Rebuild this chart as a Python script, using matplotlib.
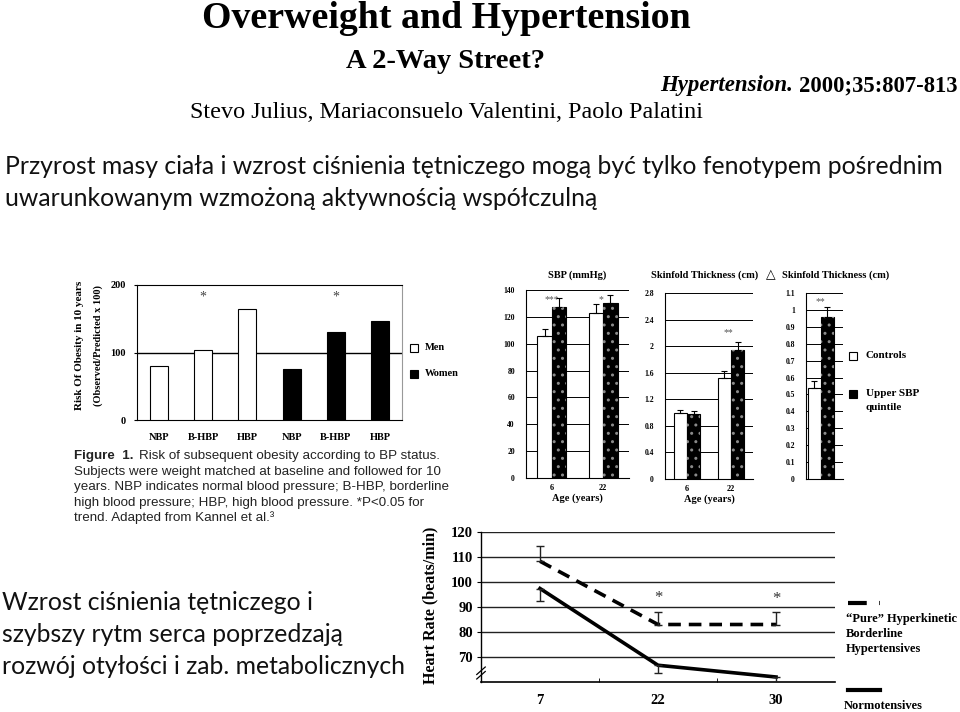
import numpy as np
import matplotlib
matplotlib.use("Agg")
import matplotlib.pyplot as plt
from matplotlib.patches import Rectangle
from matplotlib.lines import Line2D

plt.rcParams['font.family'] = ['Liberation Serif', 'DejaVu Sans']

# ---------------- data ----------------
# Panel A: Risk of obesity in 10 years
bp_cats = ["NBP", "B-HBP", "HBP", "NBP", "B-HBP", "HBP"]
men_risk = [80, 103, 164]
women_risk = [76, 130, 146]

# Panel B: SBP (mmHg)
ages_b = ["6", "22"]
sbp_controls = [106, 123]
sbp_controls_err = [5, 6.5]
sbp_upper = [127.5, 130]
sbp_upper_err = [6.5, 6]

# Panel C: Skinfold thickness (cm)
skin_controls = [0.99, 1.52]
skin_controls_err = [0.05, 0.10]
skin_upper = [0.98, 1.94]
skin_upper_err = [0.05, 0.12]

# Panel D: delta skinfold thickness (cm)
dskin_controls = [0.54]
dskin_controls_err = [0.04]
dskin_upper = [0.96]
dskin_upper_err = [0.06]

# Panel E: Heart rate (beats/min)
hr_ages = ["7", "22", "30"]
hr_hyper = [108.3, 83, 83]
hr_hyper_err = [6.3, 5, 5]
hr_norm = [97.4, 66.7, 62]
hr_norm_err = [5, 3, 3]

# ---------------- figure ----------------
W, H = 960, 712
fig = plt.figure(figsize=(W / 100, H / 100), dpi=100)
fig.patch.set_facecolor('white')


def add_ax(l, t, r, b):
    return fig.add_axes([l / W, 1 - b / H, (r - l) / W, (b - t) / H])


def ftext(x, y, s, **kw):
    kw.setdefault('va', 'center')
    return fig.text(x / W, 1 - y / H, s, **kw)


def fsquare(x, y, size, fc):
    fig.add_artist(Rectangle((x / W, 1 - (y + size) / H), size / W, size / H,
                             transform=fig.transFigure, facecolor=fc,
                             edgecolor='black', lw=0.8))


# Header texts
ftext(446, 18, "Overweight and Hypertension", ha='center', fontsize=27.3, fontweight='bold')
ftext(446, 62, "A 2-Way Street?", ha='center', fontsize=20.5, fontweight='bold')
ftext(793, 86, "Hypertension.", ha='right', fontsize=16.5, fontweight='bold', fontstyle='italic')
ftext(958, 86, "2000;35:807-813", ha='right', fontsize=16.3, fontweight='bold')
ftext(446, 113, "Stevo Julius, Mariaconsuelo Valentini, Paolo Palatini", ha='center', fontsize=17.4)

pol = dict(family=['Lato', 'DejaVu Sans'], fontsize=17.8, ha='left', color='#111111')
ftext(5, 167, "Przyrost masy ciała i wzrost ciśnienia tętniczego mogą być tylko fenotypem pośrednim", **pol)
ftext(5, 199, "uwarunkowanym wzmożoną aktywnością współczulną", **pol)
ftext(2, 603, "Wzrost ciśnienia tętniczego i", **pol)
ftext(2, 635, "szybszy rytm serca poprzedzają", **pol)
ftext(2, 667, "rozwój otyłości i zab. metabolicznych", **pol)

# ---------------- Panel A ----------------
axA = add_ax(137, 285, 402, 420)
xa = np.arange(len(bp_cats))
axA.bar(xa[:3], men_risk, width=0.41, facecolor='white', edgecolor='black', lw=0.8, zorder=3)
axA.bar(xa[3:], women_risk, width=0.41, facecolor='black', edgecolor='black', lw=0.8, zorder=3)
axA.axhline(100, color='black', lw=1.0, zorder=2)
axA.set_xlim(-0.5, 5.5)
axA.set_ylim(0, 200)
axA.set_yticks([0, 100, 200])
axA.set_xticks(xa)
axA.set_xticklabels(bp_cats)
axA.tick_params(axis='x', length=0, pad=9)
axA.tick_params(axis='y', length=2, pad=6)
for lab in axA.get_xticklabels() + axA.get_yticklabels():
    lab.set_fontsize(7.5)
    lab.set_fontweight('bold')
for sp in axA.spines.values():
    sp.set_linewidth(0.8)
axA.spines['right'].set_color('#999999')
axA.text(1, 182, "*", ha='center', va='center', fontsize=10, color='#444444')
axA.text(4, 182, "*", ha='center', va='center', fontsize=10, color='#444444')
ftext(80, 345, "Risk Of Obesity in 10 years", rotation=90, ha='center', fontsize=8, fontweight='bold')
ftext(98, 345, "(Observed/Predicted x 100)", rotation=90, ha='center', fontsize=7.5, fontweight='bold')
fsquare(410, 344, 8, 'white')
ftext(425, 348, "Men", ha='left', fontsize=7.5, fontweight='bold')
fsquare(410, 370, 8, 'black')
ftext(425, 374, "Women", ha='left', fontsize=7.5, fontweight='bold')

# Caption
cap = dict(family=['Liberation Sans', 'DejaVu Sans'], fontsize=9.6, ha='left', color='#222222')
ftext(74, 456, "Figure  1.", fontweight='bold', **cap)
ftext(139, 456, "Risk of subsequent obesity according to BP status.", **cap)
ftext(74, 472, "Subjects were weight matched at baseline and followed for 10", **cap)
ftext(74, 487, "years. NBP indicates normal blood pressure; B-HBP, borderline", **cap)
ftext(74, 503, "high blood pressure; HBP, high blood pressure. *P<0.05 for", **cap)
ftext(74, 518, "trend. Adapted from Kannel et al.\u00b3", **cap)


# ---------------- Panels B, C, D ----------------
def pair_panel(ax, ctrl, ctrl_err, upp, upp_err, width, offs, yticks, ylabels, ylim, xlim, xlabels):
    x = np.arange(len(ctrl))
    ax.bar(x - offs, ctrl, width=width, facecolor='white', edgecolor='black', lw=0.8, zorder=3)
    ax.bar(x + offs, upp, width=width, facecolor='black', edgecolor='black', lw=0.8, zorder=3)
    ax.bar(x + offs, upp, width=width, facecolor='none', edgecolor='#8a8a8a', lw=0, hatch='..', zorder=4)
    ax.errorbar(x - offs, ctrl, yerr=[np.zeros(len(ctrl)), ctrl_err], fmt='none',
                ecolor='black', elinewidth=0.8, capsize=2, capthick=0.8, zorder=5)
    ax.errorbar(x + offs, upp, yerr=[np.zeros(len(upp)), upp_err], fmt='none',
                ecolor='black', elinewidth=0.8, capsize=2, capthick=0.8, zorder=5)
    ax.set_ylim(*ylim)
    ax.set_xlim(*xlim)
    ax.set_yticks(yticks)
    ax.set_yticklabels(ylabels)
    ax.yaxis.grid(True, color='black', lw=0.7)
    ax.set_axisbelow(True)
    ax.spines['top'].set_visible(False)
    ax.spines['right'].set_visible(False)
    ax.spines['left'].set_linewidth(0.8)
    ax.spines['bottom'].set_linewidth(0.8)
    ax.tick_params(axis='y', length=0, pad=8)
    for lab in ax.get_yticklabels():
        lab.set_fontsize(5.5)
        lab.set_fontweight('bold')
    if xlabels:
        ax.set_xticks(x)
        ax.set_xticklabels(xlabels)
        ax.tick_params(axis='x', length=0, pad=4)
        for lab in ax.get_xticklabels():
            lab.set_fontsize(6)
            lab.set_fontweight('bold')
        ax.set_xlabel("Age (years)", fontsize=7.5, fontweight='bold', labelpad=1)
    else:
        ax.set_xticks([])


axB = add_ax(526, 290, 629, 478)
pair_panel(axB, sbp_controls, sbp_controls_err, sbp_upper, sbp_upper_err, 0.28, 0.14,
           np.arange(0, 141, 20), [str(v) for v in range(0, 141, 20)], (0, 140), (-0.5, 1.5), ages_b)
axB.text(0, 133, "***", ha='center', va='center', fontsize=7, color='#555555')
axB.text(0.95, 133, "*", ha='center', va='center', fontsize=7, color='#555555')
ftext(577, 275, "SBP (mmHg)", ha='center', fontsize=7.5, fontweight='bold')

axC = add_ax(665, 293, 753, 479)
cticks = np.round(np.arange(0, 2.81, 0.4), 1)
pair_panel(axC, skin_controls, skin_controls_err, skin_upper, skin_upper_err, 0.3, 0.15,
           cticks, ["0", "0.4", "0.8", "1.2", "1.6", "2", "2.4", "2.8"], (0, 2.8), (-0.5, 1.5), ages_b)
axC.text(0.95, 2.2, "**", ha='center', va='center', fontsize=7, color='#555555')
ftext(705, 275, "Skinfold Thickness (cm)", ha='center', fontsize=7.5, fontweight='bold')

axD = add_ax(806, 293, 843, 479)
dticks = np.round(np.arange(0, 1.11, 0.1), 1)
dlabels = ["0"] + ["%.1f" % v for v in dticks[1:10]] + ["1", "1.1"]
pair_panel(axD, dskin_controls, dskin_controls_err, dskin_upper, dskin_upper_err, 0.35, 0.175,
           dticks, dlabels, (0, 1.1), (-0.4, 0.6), None)
axD.text(0.0, 1.05, "**", ha='center', va='center', fontsize=7, color='#555555')
ftext(766, 275, "△", ha='left', fontsize=9, family=['DejaVu Sans'])
ftext(782, 275, "Skinfold Thickness (cm)", ha='left', fontsize=7.5, fontweight='bold')
fsquare(849, 352, 8, 'white')
ftext(866, 356, "Controls", ha='left', fontsize=8, fontweight='bold')
fsquare(849, 390, 8, 'black')
ftext(866, 394, "Upper SBP", ha='left', fontsize=8, fontweight='bold')
ftext(866, 408, "quintile", ha='left', fontsize=8, fontweight='bold')

# ---------------- Panel E ----------------
axE = add_ax(481, 532, 835, 682)
xe = np.arange(len(hr_ages))
axE.set_ylim(60, 120)
axE.set_xlim(-0.5, 2.5)
axE.set_yticks(np.arange(70, 121, 10))
axE.yaxis.grid(True, color='#222222', lw=1.0)
axE.set_axisbelow(True)
axE.plot(xe, hr_hyper, color='black', lw=2.6, ls=(0, (3.5, 2.2)), zorder=4)
axE.plot(xe, hr_norm, color='black', lw=2.6, zorder=4)
axE.errorbar(xe, hr_hyper, yerr=[np.zeros(3), hr_hyper_err], fmt='none', ecolor='#222222',
             elinewidth=1.0, capsize=3, capthick=1.0, zorder=5)
axE.errorbar(xe, hr_norm, yerr=[hr_norm_err, np.zeros(3)], fmt='none', ecolor='#222222',
             elinewidth=1.0, capsize=3, capthick=1.0, zorder=5)
for sp in ['top', 'right']:
    axE.spines[sp].set_visible(False)
axE.spines['left'].set_linewidth(1.0)
axE.spines['bottom'].set_linewidth(1.2)
axE.set_xticks(xe)
axE.set_xticklabels(hr_ages)
axE.set_xticks([0.5, 1.5], minor=True)
axE.tick_params(axis='x', which='major', length=0, pad=9)
axE.tick_params(axis='x', which='minor', length=3, direction='in')
axE.tick_params(axis='y', length=3, pad=3)
for lab in axE.get_xticklabels() + axE.get_yticklabels():
    lab.set_fontsize(10.5)
    lab.set_fontweight('bold')
axE.text(1, 93.5, "*", ha='center', va='center', fontsize=12, color='#333333')
axE.text(2, 93.3, "*", ha='center', va='center', fontsize=12, color='#333333')
# axis break mark
axE.plot([-0.012, 0.012], [0.05, 0.1], transform=axE.transAxes, color='black', lw=0.9, clip_on=False)
axE.plot([-0.012, 0.012], [0.02, 0.07], transform=axE.transAxes, color='black', lw=0.9, clip_on=False)
ftext(430, 605, "Heart Rate (beats/min)", rotation=90, ha='center', fontsize=11.5, fontweight='bold')

# legend E
fig.add_artist(Line2D([848 / W, 880 / W], [1 - 603 / H, 1 - 603 / H], transform=fig.transFigure,
                      color='black', lw=3, ls=(0, (4.5, 3))))
ftext(846, 619, "\u201cPure\u201d Hyperkinetic", ha='left', fontsize=9, fontweight='bold')
ftext(846, 634, "Borderline", ha='left', fontsize=9, fontweight='bold')
ftext(846, 649, "Hypertensives", ha='left', fontsize=9, fontweight='bold')
fig.add_artist(Line2D([848 / W, 880 / W], [1 - 690 / H, 1 - 690 / H], transform=fig.transFigure,
                      color='black', lw=3))
ftext(844, 706, "Normotensives", ha='left', fontsize=9, fontweight='bold')

fig.savefig("out.png", dpi=100, facecolor='white')
